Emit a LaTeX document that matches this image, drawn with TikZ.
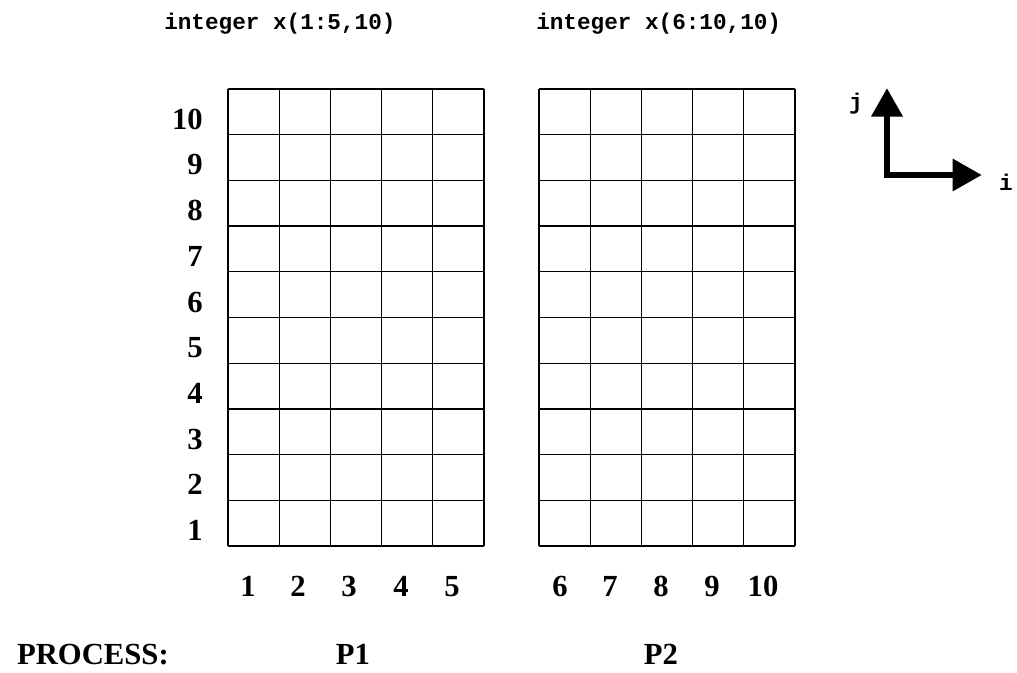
\documentclass[tikz,border=0pt]{standalone}
\usepackage{fontspec}
\setmainfont{Liberation Serif}
\setmonofont{Liberation Mono}
\usetikzlibrary{arrows.meta}
\begin{document}
\begin{tikzpicture}[x=0.75pt,y=-0.75pt,
  gridline/.style={line width=1pt,black},
  lbl/.style={font=\fontsize{23}{23}\selectfont\bfseries,inner sep=0pt},
  code/.style={font=\fontsize{17}{17}\selectfont\ttfamily\bfseries,inner sep=0pt},
  axis/.style={line width=5.2pt,line join=miter,
    {Triangle[length=21.5pt,width=22.5pt]}-{Triangle[length=22pt,width=23pt]}}]
\useasboundingbox (0,0) rectangle (1017,673);
% titles
\node[code,anchor=base west] (t1) at (164,30) {integer x(1:5,10)};
\node[code,anchor=base west] (t2) at (536,30) {integer x(6:10,10)};
% grids
\foreach \gx in {228,539}{
  \foreach \c in {0,...,5}{
    \draw[gridline] ({\gx+\c*51.2},89) -- ({\gx+\c*51.2},546);
  }
  \foreach \r in {0,...,10}{
    \draw[gridline] (\gx,{89+\r*45.7}) -- ({\gx+256},{89+\r*45.7});
  }
}
% row labels
\foreach \k in {1,...,10}{
  \node[lbl,anchor=base east] (r\k) at (203,{129.3+(10-\k)*45.7}) {\k};
}
% column labels
\foreach \k/\cx in {1/248,2/298,3/349,4/401,5/452,6/560,7/610,8/661,9/712,10/763}{
  \node[lbl,anchor=base] (c\k) at (\cx,596) {\k};
}
% process labels
\node[lbl,anchor=base east] (proc) at (169,664) {PROCESS:};
\node[lbl,anchor=base] (p1) at (353,664) {P1};
\node[lbl,anchor=base] (p2) at (661,664) {P2};
% axes
\coordinate (o) at (887,175);
\coordinate (jt) at (887,88);
\coordinate (it) at (982,175);
\draw[axis] (jt) -- (o) -- (it);
\node[code,anchor=base] (jl) at (856,110) {j};
\node[code,anchor=base] (il) at (1006,191) {i};
\end{tikzpicture}
\end{document}
